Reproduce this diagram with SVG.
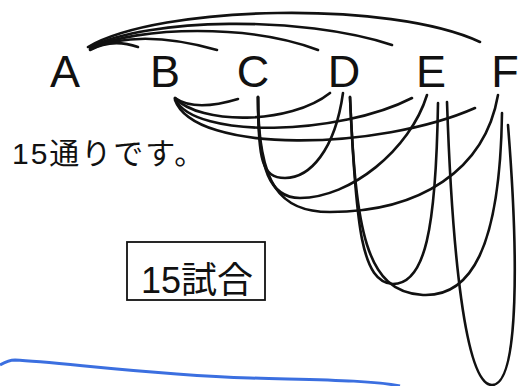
<svg xmlns="http://www.w3.org/2000/svg" width="523" height="386" viewBox="0 0 523 386">
<style>
.lbl{font-family:"Liberation Sans",Arial,sans-serif;font-size:45px;fill:#111;text-anchor:middle}
.jp{font-family:"Liberation Sans","Noto Sans CJK JP",sans-serif;fill:#111}
.c{fill:none;stroke:#111;stroke-width:2.6;stroke-linecap:round;stroke-linejoin:round}
</style>
<rect width="523" height="386" fill="#fff"/>
<g id="nodeA"><text class="lbl" x="65" y="87">A</text></g>
<g id="nodeB"><text class="lbl" x="165" y="87">B</text></g>
<g id="nodeC"><text class="lbl" x="253" y="87">C</text></g>
<g id="nodeD"><text class="lbl" x="344" y="87">D</text></g>
<g id="nodeE"><text class="lbl" x="431" y="87">E</text></g>
<g id="nodeF"><text class="lbl" x="505" y="87">F</text></g>
<g id="connectors">
<path class="c" d="M90,50 Q112,38 138,47"/>
<path class="c" d="M90,49 Q140,28 217,50"/>
<path class="c" d="M90,48 C140,26 250,24 318,50"/>
<path class="c" d="M90,47 C150,18 300,15 392,45"/>
<path class="c" d="M88,47 C160,5 390,0 480,42"/>
<path class="c" d="M175,98 Q195,112 238,99"/>
<path class="c" d="M175,98 C200,125 290,125 330,93"/>
<path class="c" d="M175,99 C195,140 340,135 412,98"/>
<path class="c" d="M175,100 C195,155 380,150 475,108"/>
<path class="c" d="M258,97 C258,160 262,178 285,178 C310,178 335,150 343,93"/>
<path class="c" d="M258,97 C258,170 270,198 300,198 C350,198 410,150 427,95"/>
<path class="c" d="M258,97 C258,185 280,212 330,212 C420,212 485,170 498,95"/>
<path class="c" d="M350,97 C356,230 362,282 393,284 C425,284 436,230 438,103"/>
<path class="c" d="M350,97 C356,230 365,292 423,295 C470,297 500,250 502,113"/>
<path class="c" d="M447,102 C452,250 465,385 492,385 C520,385 518,250 508,125"/>
</g>
<g id="note"><text class="jp" x="12" y="164" font-size="30" letter-spacing="2">15通りです。</text></g>
<g id="result">
<rect x="127" y="242" width="138" height="58" fill="none" stroke="#111" stroke-width="1.8"/>
<text class="jp" x="141" y="293" font-size="36">15試合</text>
</g>
<path d="M0,365 C5,362 10,360 15,360 C60,362 150,375 250,378 C320,380 370,380 400,386" fill="none" stroke="#3b6fe0" stroke-width="3"/>
</svg>
